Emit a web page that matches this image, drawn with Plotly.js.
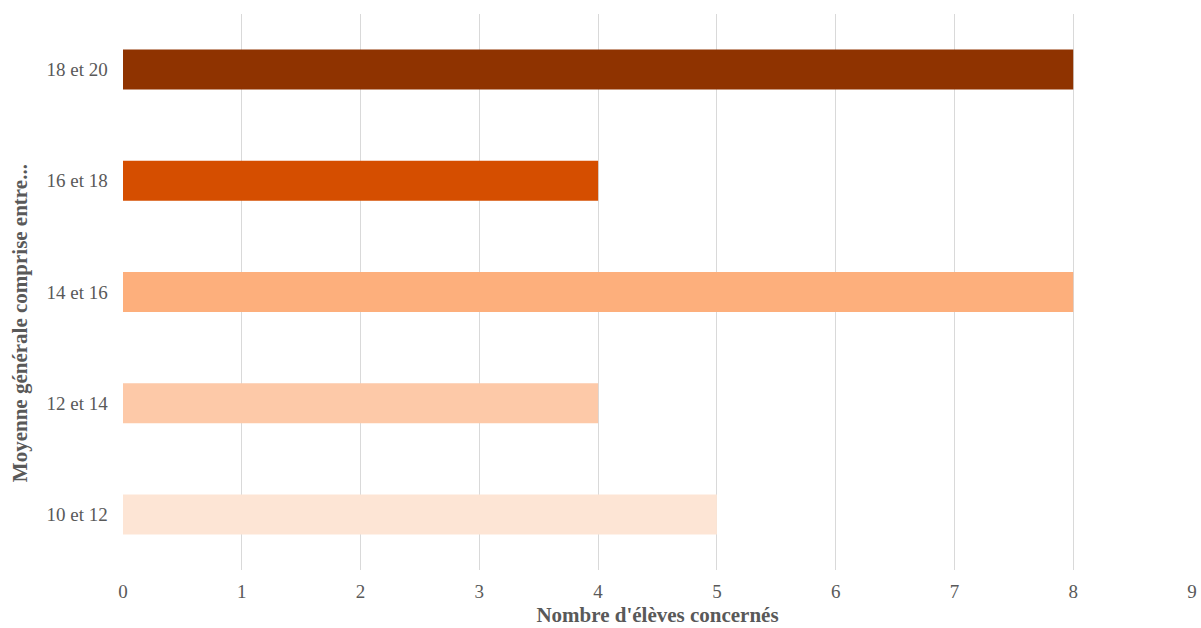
<!DOCTYPE html>
<html><head><meta charset="utf-8">
<script src="https://cdn.plot.ly/plotly-3.0.1.min.js"></script>
<style>html,body{margin:0;padding:0;background:#fff}#chart{width:1201px;height:628px}</style>
</head><body><div id="chart"></div>
<script>
const categories = ["10 et 12", "12 et 14", "14 et 16", "16 et 18", "18 et 20"];
const values = [5, 4, 8, 4, 8];
const colors = ["#FDE5D5", "#FDC9A8", "#FDAF7C", "#D54E00", "#8F3300"];
const xTicks = [0,1,2,3,4,5,6,7,8,9];
const xTitle = "Nombre d'élèves concernés";
const yTitle = "Moyenne générale comprise entre...";

const font = "Liberation Serif, Times New Roman, serif";
Plotly.newPlot("chart", [{
  type: "bar", orientation: "h",
  y: categories, x: values,
  marker: {color: colors},
  width: 0.36,
  hoverinfo: "x+y"
}], {
  width: 1201, height: 628,
  margin: {l: 123, r: 9, t: 14, b: 58},
  paper_bgcolor: "#fff", plot_bgcolor: "#fff",
  showlegend: false,
  font: {family: font, color: "#595959", size: 19},
  xaxis: {
    range: [0, 9], tickvals: xTicks, ticktext: xTicks.map(String),
    showgrid: true, gridcolor: "#d9d9d9", gridwidth: 1,
    zeroline: false, showline: false, ticks: "", ticklen: 0,
    ticklabelstandoff: 8,
    tickfont: {family: font, size: 19, color: "#595959"},
    title: {text: xTitle, font: {family: font, size: 21, color: "#595959", weight: "bold"}, standoff: 6}
  },
  yaxis: {
    type: "category", categoryorder: "array", categoryarray: categories,
    range: [-0.5, 4.5],
    showgrid: false, zeroline: false, showline: false, ticks: "",
    ticksuffix: "   ",
    tickfont: {family: font, size: 19, color: "#595959"}
  },
  annotations: [{
    text: "<b>" + yTitle + "</b>", textangle: -90,
    xref: "paper", yref: "paper", x: 0, y: 0.444,
    xanchor: "center", yanchor: "middle", xshift: -103,
    showarrow: false,
    font: {family: font, size: 21, color: "#595959"}
  }]
}, {displayModeBar: false});
</script></body></html>
